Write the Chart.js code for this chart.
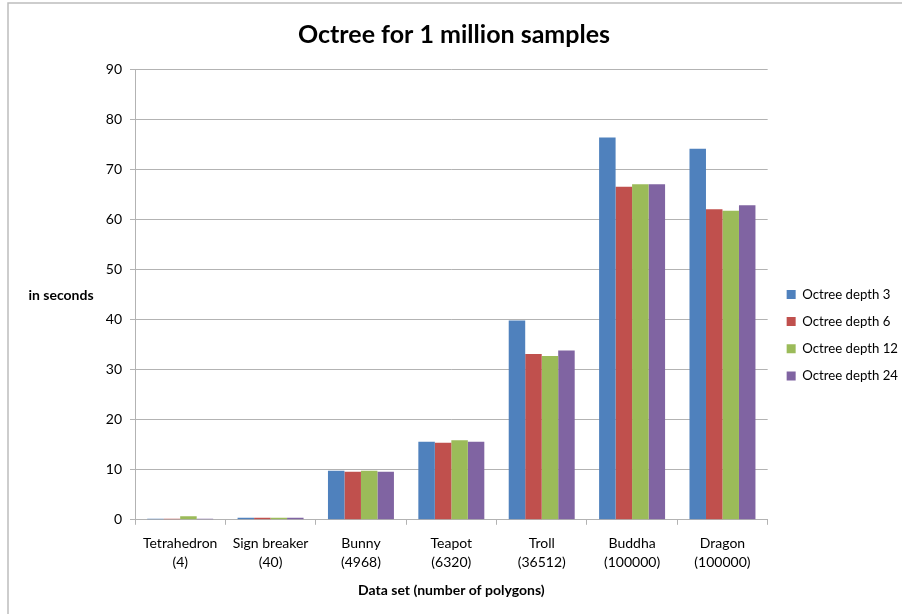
<!DOCTYPE html>
<html>
<head>
<meta charset="utf-8">
<script src="https://cdn.jsdelivr.net/npm/chart.js@4/dist/chart.umd.min.js"></script>
<style>
  html, body { margin: 0; padding: 0; background: #ffffff; }
  #wrap { position: relative; width: 902px; height: 614px; }
</style>
</head>
<body>
<div id="wrap"><canvas id="chart" width="902" height="614"></canvas></div>
<script>
// Data sets (number of polygons) on the category axis
const categories = [
  ['Tetrahedron', '(4)'],
  ['Sign breaker', '(40)'],
  ['Bunny', '(4968)'],
  ['Teapot', '(6320)'],
  ['Troll', '(36512)'],
  ['Buddha', '(100000)'],
  ['Dragon', '(100000)']
];

// Run time in seconds per octree depth
const depth3  = [0.2, 0.4, 9.8, 15.6, 39.8, 76.3, 74.1];
const depth6  = [0.2, 0.4, 9.6, 15.4, 33.1, 66.5, 62.0];
const depth12 = [0.7, 0.4, 9.8, 15.9, 32.7, 67.0, 61.7];
const depth24 = [0.2, 0.4, 9.6, 15.6, 33.8, 67.0, 62.8];

const seriesNames = ['Octree depth 3', 'Octree depth 6', 'Octree depth 12', 'Octree depth 24'];
const yTicks = [0, 10, 20, 30, 40, 50, 60, 70, 80, 90];

const colors = ['#4F81BD', '#C0504D', '#9BBB59', '#8064A2'];
const gridGray = '#b3b3b3';
const FONT = 'Lato, "Open Sans", "Liberation Sans", sans-serif';

Chart.defaults.font.family = FONT;
Chart.defaults.color = '#000000';

// Draws the chart-area frame and the horizontal y-axis caption
const decorations = {
  id: 'decorations',
  afterDraw(chart) {
    const ctx = chart.ctx;
    ctx.save();
    ctx.strokeStyle = '#bdbdbd';
    ctx.lineWidth = 1.5;
    ctx.beginPath();
    ctx.moveTo(8, 620);
    ctx.lineTo(8, 3);
    ctx.lineTo(910, 3);
    ctx.stroke();
    ctx.fillStyle = '#000000';
    ctx.font = 'bold 14px ' + FONT;
    ctx.textAlign = 'center';
    ctx.textBaseline = 'middle';
    ctx.fillText('in seconds', 61, 295);
    ctx.restore();
  }
};

const datasets = [depth3, depth6, depth12, depth24].map((values, i) => ({
  label: seriesNames[i],
  data: values,
  backgroundColor: colors[i],
  borderWidth: 0,
  categoryPercentage: 0.73,
  barPercentage: 1.0
}));

new Chart(document.getElementById('chart'), {
  type: 'bar',
  data: { labels: categories, datasets },
  plugins: [decorations],
  options: {
    responsive: false,
    animation: false,
    devicePixelRatio: 1,
    layout: { padding: { left: 0, right: -6, top: 0, bottom: 15 } },
    plugins: {
      title: {
        display: true,
        text: 'Octree for 1 million samples',
        font: { size: 25, weight: 'bold', lineHeight: 1.2 },
        color: '#000000',
        padding: { top: 20, bottom: 19 }
      },
      legend: {
        position: 'right',
        align: 'center',
        title: {
          display: true,
          text: '',
          font: { size: 12, lineHeight: 1.2 },
          padding: { top: 57, bottom: 0 }
        },
        labels: {
          boxWidth: 9,
          boxHeight: 9,
          padding: 14,
          font: { size: 13.2 },
          color: '#000000'
        }
      },
      tooltip: { enabled: false }
    },
    scales: {
      x: {
        grid: {
          offset: true,
          drawOnChartArea: false,
          drawTicks: true,
          tickLength: 5,
          color: gridGray
        },
        border: { color: gridGray },
        ticks: {
          padding: 10,
          font: { size: 14, lineHeight: 1.3 },
          color: '#000000',
          maxRotation: 0,
          autoSkip: false
        },
        title: {
          display: true,
          text: 'Data set (number of polygons)',
          font: { size: 14, weight: 'bold', lineHeight: 1.2 },
          color: '#000000',
          padding: { top: 1, bottom: 0 }
        }
      },
      y: {
        min: 0,
        max: 90,
        afterBuildTicks(scale) {
          scale.ticks = yTicks.map(v => ({ value: v }));
        },
        afterFit(scale) { scale.width = 135; },
        grid: {
          color: gridGray,
          tickLength: 5
        },
        border: { color: gridGray },
        ticks: {
          padding: 8,
          font: { size: 14 },
          color: '#000000'
        }
      },
      // empty strip between the plot and the legend
      gap: {
        type: 'linear',
        position: 'right',
        display: true,
        afterFit(scale) { scale.width = 5; },
        grid: { display: false },
        border: { display: false },
        ticks: { display: false }
      }
    }
  }
});
</script>
</body>
</html>
